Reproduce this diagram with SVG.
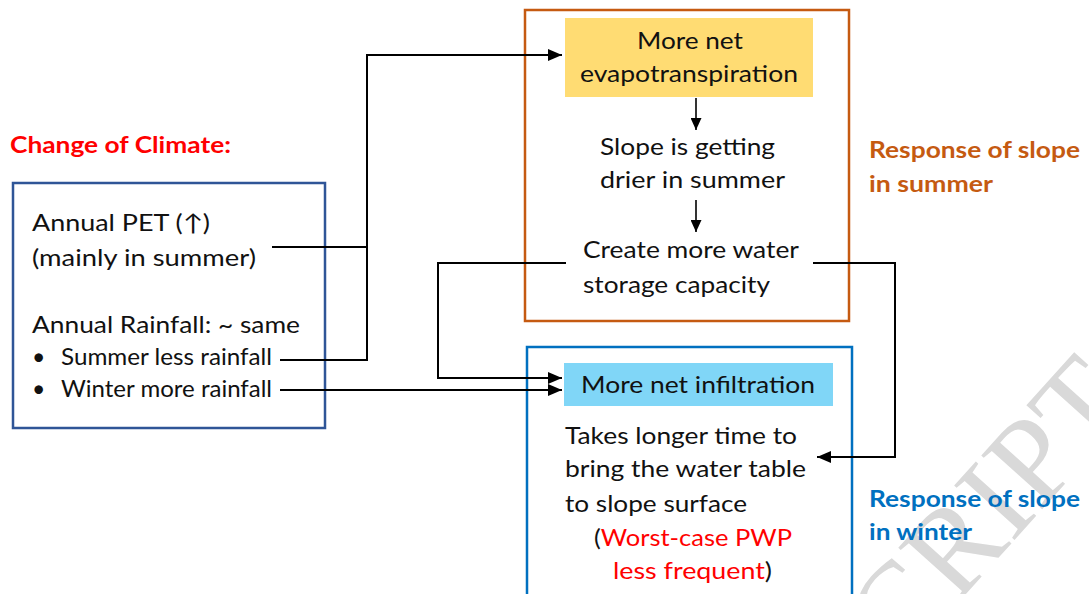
<svg xmlns="http://www.w3.org/2000/svg" width="1089" height="594" viewBox="0 0 1089 594">
  <defs>
    <marker id="arrow" markerUnits="userSpaceOnUse" markerWidth="15" markerHeight="12" refX="14" refY="6" orient="auto">
      <path d="M0,0 L14,6 L0,12 z" fill="#000"/>
    </marker>
    <marker id="arrow-sm" markerUnits="userSpaceOnUse" markerWidth="13" markerHeight="11" refX="12" refY="5.5" orient="auto">
      <path d="M0,0 L12,5.5 L0,11 z" fill="#000"/>
    </marker>
    <style>
      .body { font-family: Lato, "Open Sans", "DejaVu Sans", sans-serif; font-size: 23px; fill: #111; }
      .head { font-family: Lato, "Open Sans", sans-serif; font-size: 23px; font-weight: bold; }
      .red { fill: #FF0000; }
      .orange { fill: #C55A11; }
      .blue { fill: #0070C0; }
      .conn { fill: none; stroke: #000; stroke-width: 2; }
      .watermark { font-family: "Liberation Serif", serif; font-size: 124px; fill: #D9D9D9; }
    </style>
  </defs>

  <rect width="1089" height="594" fill="#fff"/>

  <!-- background watermark, running diagonally off the lower right corner -->
  <text class="watermark" text-anchor="end" transform="translate(1136,405) rotate(-48)">SCRIPT</text>

  <!-- climate change heading and inputs -->
  <g id="climate-heading">
    <text class="head red" x="10" y="153" textLength="221" lengthAdjust="spacingAndGlyphs">Change of Climate:</text>
  </g>

  <g id="climate-box">
    <rect x="13" y="183" width="312" height="245" fill="#fff" stroke="#2F5597" stroke-width="2.5"/>
    <text class="body" x="32" y="231" textLength="178" lengthAdjust="spacingAndGlyphs">Annual PET (↑)</text>
    <text class="body" x="32" y="266" textLength="224" lengthAdjust="spacingAndGlyphs">(mainly in summer)</text>
    <text class="body" x="32" y="333" textLength="268" lengthAdjust="spacingAndGlyphs">Annual Rainfall: ~ same</text>
    <text class="body" x="32" y="365">•</text>
    <text class="body" x="61" y="365" textLength="211" lengthAdjust="spacingAndGlyphs">Summer less rainfall</text>
    <text class="body" x="32" y="397">•</text>
    <text class="body" x="61" y="397" textLength="211" lengthAdjust="spacingAndGlyphs">Winter more rainfall</text>
  </g>

  <!-- summer response -->
  <g id="summer-box">
    <rect x="525" y="10" width="324" height="311" fill="none" stroke="#C55A11" stroke-width="2.5"/>
  </g>
  <g id="evapotranspiration">
    <rect x="565" y="18" width="248" height="79" fill="#FFDC73"/>
    <text class="body" x="637" y="49" textLength="106" lengthAdjust="spacingAndGlyphs">More net</text>
    <text class="body" x="580" y="82" textLength="218" lengthAdjust="spacingAndGlyphs">evapotranspiration</text>
  </g>
  <g id="drier">
    <text class="body" x="600" y="155" textLength="175" lengthAdjust="spacingAndGlyphs">Slope is getting</text>
    <text class="body" x="600" y="188" textLength="185" lengthAdjust="spacingAndGlyphs">drier in summer</text>
  </g>
  <g id="storage">
    <text class="body" x="583" y="258" textLength="216" lengthAdjust="spacingAndGlyphs">Create more water</text>
    <text class="body" x="583" y="293" textLength="187" lengthAdjust="spacingAndGlyphs">storage capacity</text>
  </g>
  <g id="summer-label">
    <text class="head orange" x="869" y="158" textLength="211" lengthAdjust="spacingAndGlyphs">Response of slope</text>
    <text class="head orange" x="869" y="192" textLength="124" lengthAdjust="spacingAndGlyphs">in summer</text>
  </g>

  <!-- winter response -->
  <g id="winter-box">
    <rect x="527" y="347" width="325" height="260" fill="none" stroke="#0070C0" stroke-width="2.5"/>
  </g>
  <g id="infiltration">
    <rect x="564" y="363" width="269" height="43" fill="#80D6F7"/>
    <text class="body" x="581" y="393" textLength="234" lengthAdjust="spacingAndGlyphs">More net infiltration</text>
  </g>
  <g id="water-table">
    <text class="body" x="565" y="444" textLength="232" lengthAdjust="spacingAndGlyphs">Takes longer time to</text>
    <text class="body" x="565" y="477" textLength="241" lengthAdjust="spacingAndGlyphs">bring the water table</text>
    <text class="body" x="565" y="512" textLength="182" lengthAdjust="spacingAndGlyphs">to slope surface</text>
    <text class="body" x="594" y="546" textLength="198" lengthAdjust="spacingAndGlyphs">(<tspan class="red">Worst-case PWP</tspan></text>
    <text class="body" x="613" y="579" textLength="159" lengthAdjust="spacingAndGlyphs"><tspan class="red">less frequent</tspan>)</text>
  </g>
  <g id="winter-label">
    <text class="head blue" x="869" y="507" textLength="211" lengthAdjust="spacingAndGlyphs">Response of slope</text>
    <text class="head blue" x="869" y="540" textLength="103" lengthAdjust="spacingAndGlyphs">in winter</text>
  </g>

  <!-- connectors -->
  <g id="connectors">
    <path class="conn" d="M272,247 H367"/>
    <path class="conn" d="M280,360 H367 V55 H562" marker-end="url(#arrow)"/>
    <path class="conn" d="M280,390 H562" marker-end="url(#arrow)"/>
    <path class="conn" d="M566,263 H438 V378 H562" marker-end="url(#arrow)"/>
    <path class="conn" d="M813,263 H895 V457 H817" marker-end="url(#arrow)"/>
    <path class="conn" style="stroke-width:1.6" d="M696,98 V130" marker-end="url(#arrow-sm)"/>
    <path class="conn" style="stroke-width:1.6" d="M696,200 V232" marker-end="url(#arrow-sm)"/>
  </g>
</svg>
